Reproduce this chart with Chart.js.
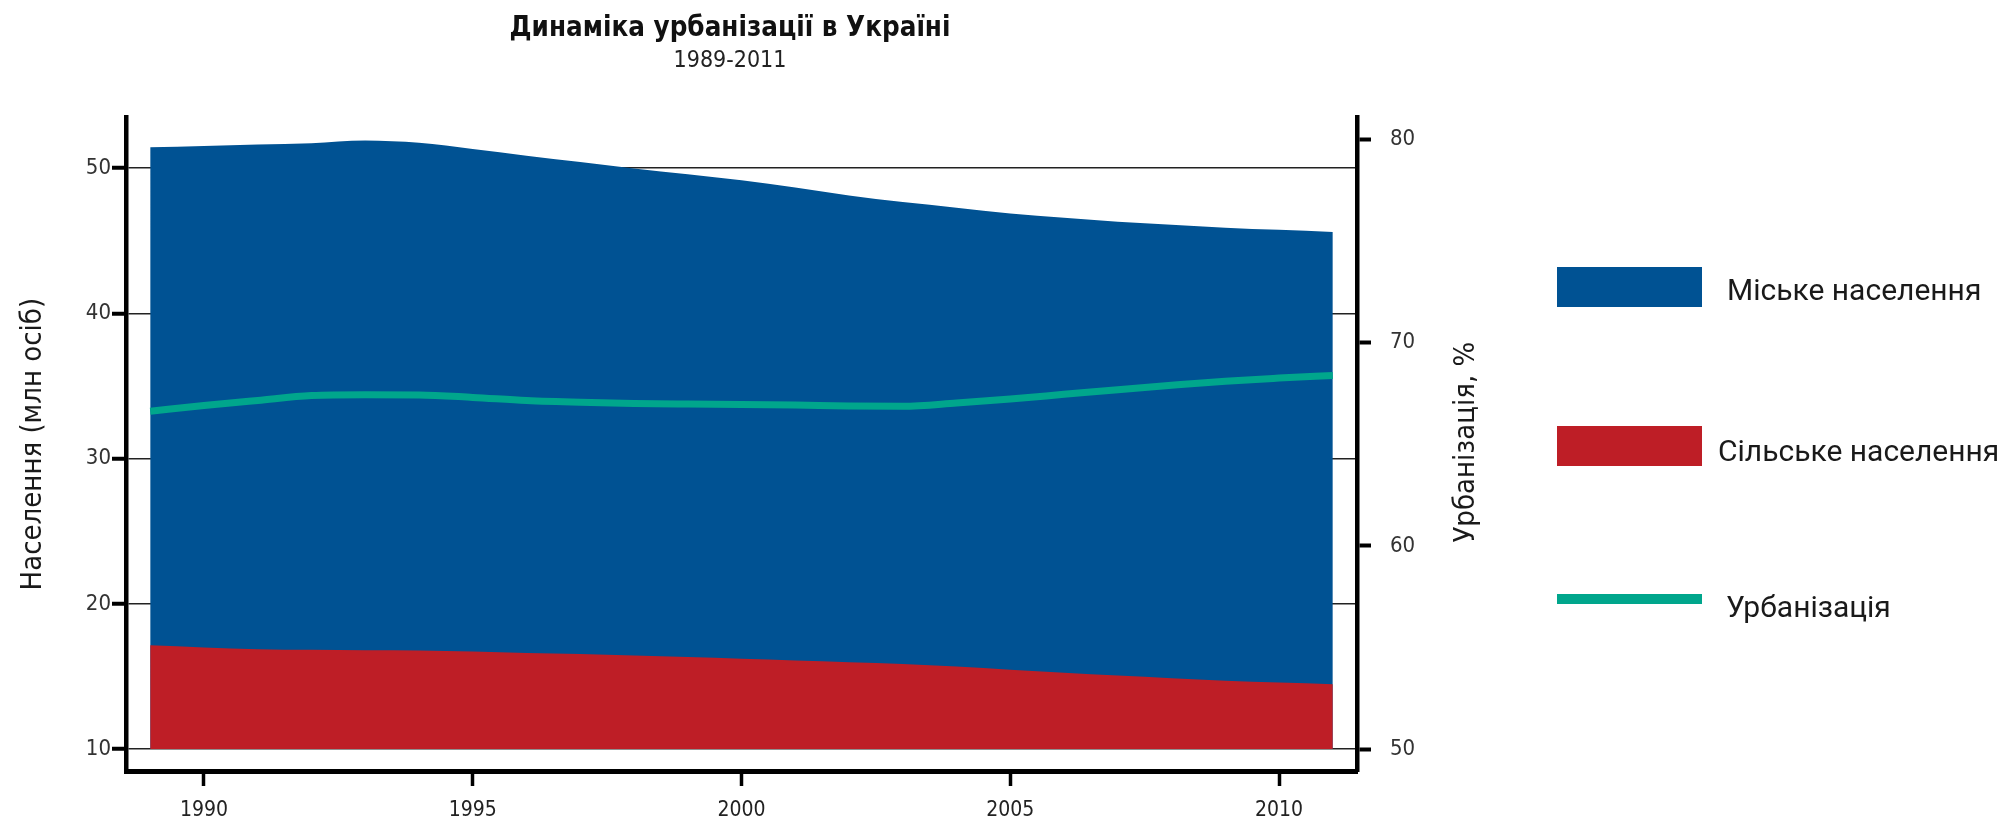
<!DOCTYPE html>
<html>
<head>
<meta charset="utf-8">
<script src="https://cdn.jsdelivr.net/npm/chart.js@4.4.1/dist/chart.umd.min.js"></script>
<style>
  html, body { margin: 0; padding: 0; background: #fff; }
  #wrap { position: relative; width: 2001px; height: 821px; }
  .swatch { position: absolute; }
  .legtext { position: absolute; font-family: Roboto, "Open Sans", sans-serif; font-size: 30px; color: #1a1a1a; line-height: 30px; white-space: nowrap; }
</style>
</head>
<body>
<div id="wrap">
  <canvas id="chart-area" width="2001" height="821"></canvas>
</div>
<script>
var years = [1989, 1990, 1991, 1992, 1993, 1994, 1995, 1996, 1997, 1998, 1999, 2000,
             2001, 2002, 2003, 2004, 2005, 2006, 2007, 2008, 2009, 2010, 2011];
// million people
var rural = [17.14, 17.00, 16.88, 16.83, 16.81, 16.79, 16.72, 16.62, 16.54, 16.44, 16.34, 16.22,
             16.10, 15.98, 15.86, 15.68, 15.46, 15.26, 15.06, 14.88, 14.70, 14.58, 14.46];
var urban = [34.30, 34.53, 34.74, 34.89, 35.09, 34.95, 34.60, 34.24, 33.88, 33.54, 33.24, 32.95,
             32.56, 32.14, 31.80, 31.60, 31.42, 31.32, 31.24, 31.22, 31.20, 31.17, 31.14];
// per cent
var urbanisation = [66.62, 66.90, 67.15, 67.39, 67.43, 67.42, 67.30, 67.15, 67.06, 67.00, 66.97, 66.95,
                    66.92, 66.88, 66.86, 67.02, 67.22, 67.45, 67.68, 67.90, 68.10, 68.25, 68.38];

var xTicks = [1990, 1995, 2000, 2005, 2010];
var popTicks = [10, 20, 30, 40, 50];
var pctTicks = [50, 60, 70, 80];

var labels = ["Міське населення", "Сільське населення", "Урбанізація"];
var titleText = "Динаміка урбанізації в Україні";
var subtitleText = "1989-2011";
var popTitle = "Населення (млн осіб)";
var pctTitle = "Урбанізація, %";

var BLUE = "#005293", RED = "#be1e26", GREEN = "#00a68c";
var narrow = "'Liberation Sans Narrow', 'DejaVu Sans Condensed', Roboto, sans-serif";

function pts(arr) {
  return years.map(function (y, i) { return { x: y, y: arr[i] }; });
}
function setTicks(list) {
  return function (scale) { scale.ticks = list.map(function (v) { return { value: v }; }); };
}
function fixWidth(w) {
  // fixed axis width; label overflow should not squeeze the plot vertically
  return function (s) { s.width = w; s.paddingTop = 0; s.paddingBottom = 0; };
}

// right axis title reads bottom-to-top in the original
var rightTitle = {
  id: "rightTitle",
  afterDraw: function (chart) {
    var c = chart.ctx, a = chart.chartArea;
    c.save();
    c.translate(1466, (a.top + a.bottom) / 2 - 2);
    c.rotate(-Math.PI / 2);
    c.font = "29px " + narrow;
    c.fillStyle = "#1a1a1a";
    c.textAlign = "center";
    c.textBaseline = "middle";
    c.fillText(pctTitle, 0, 0);
    c.restore();
  }
};

var ctx = document.getElementById("chart-area").getContext("2d");
var chart = new Chart(ctx, {
  type: "line",
  data: {
    datasets: [{
      label: labels[2],
      data: pts(urbanisation),
      yAxisID: "y1",
      borderColor: GREEN,
      borderWidth: 7,
      pointRadius: 0,
      cubicInterpolationMode: "monotone",
      fill: false,
    }, {
      label: labels[1],
      data: pts(rural),
      yAxisID: "y",
      borderWidth: 0,
      borderColor: RED,
      backgroundColor: RED,
      pointRadius: 0,
      cubicInterpolationMode: "monotone",
      fill: { value: 10 },
    }, {
      label: labels[0],
      data: pts(urban),
      yAxisID: "y",
      borderWidth: 0,
      borderColor: BLUE,
      backgroundColor: BLUE,
      pointRadius: 0,
      cubicInterpolationMode: "monotone",
      fill: { value: 10 },
    }],
  },
  options: {
    responsive: false,
    animation: false,
    layout: { padding: { left: 0, right: 541, top: 0, bottom: 0 } },
    plugins: {
      legend: { display: false },
      tooltip: { enabled: false },
      title: {
        display: true,
        text: titleText,
        color: "#111",
        font: { family: narrow, size: 27.5, weight: "bold", lineHeight: 1.2 },
        padding: { top: 12, bottom: 0 },
      },
      subtitle: {
        display: true,
        text: subtitleText,
        color: "#222",
        font: { family: narrow, size: 23, lineHeight: 1.1 },
        padding: { top: 3, bottom: 44 },
      },
    },
    scales: {
      x: {
        type: "linear",
        min: 1988.55,
        max: 2011.45,
        afterBuildTicks: setTicks(xTicks),
        afterFit: function (s) { s.height = 50; },
        border: { display: true, color: "#000", width: 5 },
        grid: { drawOnChartArea: false, drawTicks: true, tickLength: 15, tickWidth: 3.5, tickColor: "#000" },
        ticks: { color: "#222", padding: 12, maxRotation: 0, font: { family: narrow, size: 21 },
                 callback: function (v) { return String(v); } },
      },
      y: {
        type: "linear",
        position: "left",
        stacked: true,
        min: 8.49,
        max: 53.5,
        afterBuildTicks: setTicks(popTicks),
        afterFit: fixWidth(126),
        border: { display: true, color: "#000", width: 4.5 },
        grid: { drawOnChartArea: true, color: "#222", lineWidth: 1.5, drawTicks: true,
                tickLength: 14, tickWidth: 4, tickColor: "#000" },
        ticks: { color: "#333", padding: 1, font: { family: narrow, size: 22 } },
        title: { display: true, text: popTitle, color: "#1a1a1a",
                 font: { family: narrow, size: 29 }, padding: { top: 16, bottom: 0 } },
      },
      y1: {
        type: "linear",
        position: "right",
        min: 48.92,
        max: 81.08,
        afterBuildTicks: setTicks(pctTicks),
        afterFit: fixWidth(103),
        border: { display: true, color: "#000", width: 4.5 },
        grid: { drawOnChartArea: false, drawTicks: true, tickLength: 14, tickWidth: 4, tickColor: "#000" },
        ticks: { color: "#333", padding: 19, font: { family: narrow, size: 22 } },
      },
    },
  },
  plugins: [rightTitle],
});

// legend built from the datasets
var legendSpots = [
  { ds: 2, top: 267, h: 40, textLeft: 1727, textMid: 290 },
  { ds: 1, top: 426, h: 40, textLeft: 1718, textMid: 451 },
  { ds: 0, top: 594, h: 10, textLeft: 1726, textMid: 607 },
];
var wrap = document.getElementById("wrap");
legendSpots.forEach(function (spot) {
  var ds = chart.data.datasets[spot.ds];
  var sw = document.createElement("div");
  sw.className = "swatch";
  sw.style.left = "1557px";
  sw.style.top = spot.top + "px";
  sw.style.width = "145px";
  sw.style.height = spot.h + "px";
  sw.style.background = ds.backgroundColor && ds.fill ? ds.backgroundColor : ds.borderColor;
  wrap.appendChild(sw);
  var tx = document.createElement("div");
  tx.className = "legtext";
  tx.style.left = spot.textLeft + "px";
  tx.style.top = (spot.textMid - 15) + "px";
  tx.textContent = ds.label;
  wrap.appendChild(tx);
});
</script>
</body>
</html>
